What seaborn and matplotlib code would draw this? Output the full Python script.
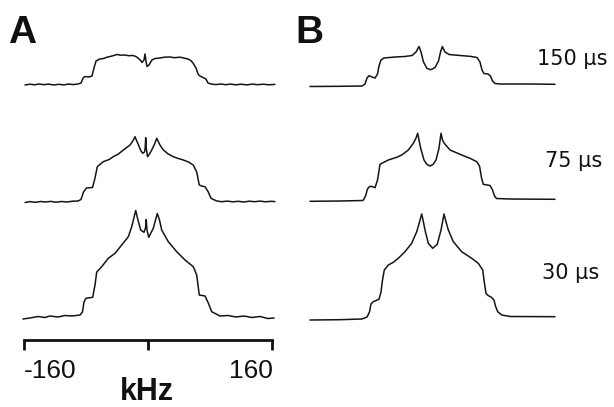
import numpy as np
import pandas as pd
import matplotlib
matplotlib.use("Agg")
import matplotlib.pyplot as plt
import seaborn as sns

# ---------------- data (frequency in kHz, intensity in arbitrary units) ----------------
A150_khz = [-158, -152, -146, -140, -134, -128, -121, -115, -108, -102, -96, -90, -86, -83.5, -81, -76, -72,
            -69.4, -66.8, -62, -57, -52, -48.8, -44, -40, -35, -30, -25, -19.3, -15, -12.9, -9.5, -7.7, -5.1,
            -3.9, -2.6, -1.3, 1.3, 3.5, 5.1, 9, 15.4, 21, 28.3, 34, 41.1, 46, 51.4, 55, 57.8, 61.7, 64.3, 66.8,
            70.7, 74.5, 77.1, 81, 87, 94, 100, 106, 113, 120, 127, 134, 141, 148, 155, 163]
A150_int = [0, 0.8, 0.2, 1.0, 0.3, 0.9, 0, 0.7, 0.1, 1.0, 0.4, 1.0, 2, 7, 8.5, 8, 9,
            17, 24, 26, 26.5, 28, 28.5, 29.5, 30.5, 29.8, 30, 29.3, 29.5, 28.3, 27, 24.5, 22.5, 25,
            31, 24, 18.5, 20, 23, 25, 26.5, 27, 27.8, 28, 27.3, 27.8, 27, 26, 24.5, 22, 17, 11, 9,
            7.5, 6, 2, 1, 0.4, 1, 0.3, 0.9, 0.2, 0.8, 0.1, 0.9, 0.3, 0.8, 0.2, 0.6]

A75_khz = [-158, -152, -145, -138, -132, -125, -118, -111, -104, -97, -90, -86.1, -82.9, -79, -71.3, -68.1,
           -65.2, -57.5, -50, -44.6, -38, -31.7, -23.1, -19.5, -16.7, -14.5, -12.2, -9, -6.8, -4.5, -3.6,
           -2.96, -2.3, -1.5, -0.6, 2, 4.8, 8.5, 11.2, 13.5, 15.4, 19.7, 26, 32.5, 39, 45.4, 52, 58.2, 62.6,
           65.9, 69.5, 73.3, 77.5, 81, 88.3, 95, 102, 109, 116, 123, 130, 137, 144, 151, 158, 163]
A75_int = [-0.5, 0.4, -0.3, 0.5, 0, 0.6, -0.2, 0.5, 0, 0.8, 1, 2.5, 10, 14, 14.5, 24,
           35.3, 40.3, 42.5, 45.3, 48, 52, 57, 61, 65.3, 61, 57, 51, 48.7, 50, 54,
           64.3, 54, 50, 45.3, 48, 52, 58, 63.7, 60, 57, 52, 48, 45.3, 43.5, 42, 40, 37, 30,
           17, 15.8, 15.3, 10, 3.7, 1, 0.3, 0.9, 0.2, 0.7, 0, 0.8, 0.3, 0.9, 0.2, 0.7, 0.4]

A30_khz = [-160.7, -151.7, -141.4, -132.4, -126.0, -115.7, -106.7, -97.7, -87.4, -84.2, -82.3, -79.7, -71.1,
           -68.1, -65.9, -59.5, -51.0, -42.4, -33.8, -25.3, -20.9, -15.8, -12.9, -9.4, -5.1, -3.2, -2.3,
           -1.3, 0.9, 6.8, 11.95, 14.8, 17.6, 26.1, 36.9, 47.6, 58.2, 62.6, 65.9, 73.3, 77.5, 81.9, 92.5,
           102.8, 113.1, 123.4, 133.6, 143.9, 154.2, 162.0]
A30_int = [-2, -1, 0.5, -0.5, 1, 0, 1.5, 1, 2, 5, 15, 18.7, 19.7,
           32, 45, 50.3, 58.7, 63.7, 72, 80.3, 90.3, 106.5, 97, 87, 84.7, 89, 97.5,
           87, 79.7, 88.7, 103.5, 97, 87, 75.3, 65.3, 57, 50.3, 42, 22, 21, 14, 5.3, 1,
           1.5, 0, 1, -0.5, 0.5, -1.5, -1]

B150_khz = [-154.9, -116.3, -88.0, -84.2, -81.6, -79.0, -75.2, -71.3, -68.1, -66.2, -63.6, -59.8, -45.6,
            -32.8, -23.8, -18.6, -14.8, -12.2, -9.0, -4.5, 0.6, 5.8, 10.3, 12.9, 15.2, 18.6, 23.8, 37.9,
            50.8, 59.8, 63.6, 66.2, 68.7, 73.9, 77.1, 79.7, 82.9, 89.3, 127.9, 160.0]
B150_int = [-0.5, -0.3, 0, 2, 8, 10.3, 9, 8, 12, 20, 26, 28, 29,
            29.5, 30.5, 34, 39.5, 34, 24, 17.5, 16.3, 18.5, 25, 34, 39.5, 34, 31.5, 30.5,
            29.7, 28.5, 24, 16, 12.5, 12, 10, 5, 2.5, 2, 2, 1.7]

B75_khz = [-154.9, -116.3, -86.8, -83.5, -81.0, -78.4, -75.2, -71.3, -68.1, -64.9, -54.2, -43.4, -37.0,
           -28.5, -22.1, -18.6, -16.5, -14.8, -12.6, -8.4, -4.5, -0.6, 3.2, 7.1, 10.9, 13.5, 15.4, 17.7,
           25.1, 40.1, 50.8, 59.4, 63.0, 65.6, 67.9, 72.6, 76.5, 79.7, 82.3, 84.8, 102.2, 160.0]
B75_int = [-0.3, 0, 0.5, 5, 12, 14.5, 14.5, 13.3, 21, 36.7, 41, 43.7, 46,
           51, 57.7, 63, 67.7, 61, 52.7, 41, 36.5, 35, 36.5, 41, 52.7, 67.7, 61, 57.7,
           51, 46, 42.7, 39.3, 35, 23, 16.7, 16, 15.5, 11, 5, 2.5, 2, 1.7]

B30_khz = [-154.9, -116.3, -88.0, -81.6, -78.4, -76.5, -73.5, -70.0, -66.2, -63.6, -61.7, -59.4, -54.2,
           -47.8, -41.4, -32.8, -24.2, -17.7, -14.1, -11.3, -9.6, -7.1, -2.8, 2.8, 8.7, 13.5, 15.7, 17.4,
           19.3, 22.9, 29.3, 40.1, 53.0, 61.4, 67.1, 69.1, 71.3, 73.9, 77.8, 81.6, 83.5, 86.4, 91.5, 102.2,
           160.0]
B30_int = [-1, -0.7, 0, 2, 7, 15, 17.3, 18.5, 19.7, 27, 39, 49, 54,
           56.7, 60.7, 67.3, 75.7, 87.3, 97, 105, 99, 89, 75.7, 70.7, 74.7, 89, 98, 105,
           99, 89, 77.3, 67.3, 60.7, 55.7, 49, 37, 25.7, 23.5, 22, 19, 13, 7.3, 4, 2.5,
           2.3]

delay_labels = ["150 \u03bcs", "75 \u03bcs", "30 \u03bcs"]
tick_values = [-160, 0, 160]
tick_labels = ["-160", "", "160"]
axis_label = "kHz"
panel_labels = ["A", "B"]

# ---------------- figure ----------------
sns.set_theme(style="white")
plt.rcParams["font.family"] = ["Liberation Sans", "DejaVu Sans"]

W, H = 614, 407
fig = plt.figure(figsize=(W / 100, H / 100), dpi=100)

px_per_khz = 0.778
half = 165 * px_per_khz
bottom_px = 340

def make_ax(center_px):
    return fig.add_axes([(center_px - half) / W, (H - bottom_px) / H, 2 * half / W, bottom_px / H])

axA = make_ax(148.0)
axB = make_ax(430.5)
for ax in (axA, axB):
    ax.set_xlim(-165, 165)
    ax.set_ylim(0, bottom_px)
    ax.patch.set_alpha(0)
    for s in ax.spines.values():
        s.set_visible(False)
    ax.set_yticks([])

line_kw = dict(color="#151515", linewidth=1.1, sort=False, estimator=None)
offsetsA = [255, 138, 23]
offsetsB = [254, 139, 21]
seriesA = [(A150_khz, A150_int), (A75_khz, A75_int), (A30_khz, A30_int)]
seriesB = [(B150_khz, B150_int), (B75_khz, B75_int), (B30_khz, B30_int)]
for (k, v), off in zip(seriesA, offsetsA):
    df = pd.DataFrame({"khz": k, "y": np.array(v) + off})
    sns.lineplot(data=df, x="khz", y="y", ax=axA, **line_kw)
for (k, v), off in zip(seriesB, offsetsB):
    df = pd.DataFrame({"khz": k, "y": np.array(v) + off})
    sns.lineplot(data=df, x="khz", y="y", ax=axB, **line_kw)

for ax in (axA, axB):
    ax.set_xlabel("")
    ax.set_ylabel("")

# frequency axis under panel A
axA.spines["bottom"].set_visible(True)
axA.spines["bottom"].set_bounds(-160, 160)
axA.spines["bottom"].set_linewidth(2.0)
axA.spines["bottom"].set_color("#111111")
axA.set_xticks(tick_values)
axA.set_xticklabels(tick_labels)
axA.tick_params(axis="x", bottom=True, direction="out", length=7.5, width=2.0, color="#111111",
                pad=6, labelsize=19, labelcolor="#111111")
labs = axA.get_xticklabels()
labs[0].set_ha("left")
labs[2].set_ha("right")
axB.set_xticks([])

fig.text(147 / W, (H - 400) / H, axis_label, ha="center", va="baseline",
         fontsize=22, fontweight="bold", color="#111111")
fig.text(8 / W, (H - 43) / H, panel_labels[0], ha="left", va="baseline",
         fontsize=28, fontweight="bold", color="#111111")
fig.text(295 / W, (H - 43) / H, panel_labels[1], ha="left", va="baseline",
         fontsize=28, fontweight="bold", color="#111111")

for lab, (xp, yp) in zip(delay_labels, [(537, 65), (545, 167), (542, 279)]):
    fig.text(xp / W, (H - yp) / H, lab, ha="left", va="baseline", fontsize=15,
             family=["DejaVu Sans"], color="#111111")

fig.savefig("out.png", dpi=100)
